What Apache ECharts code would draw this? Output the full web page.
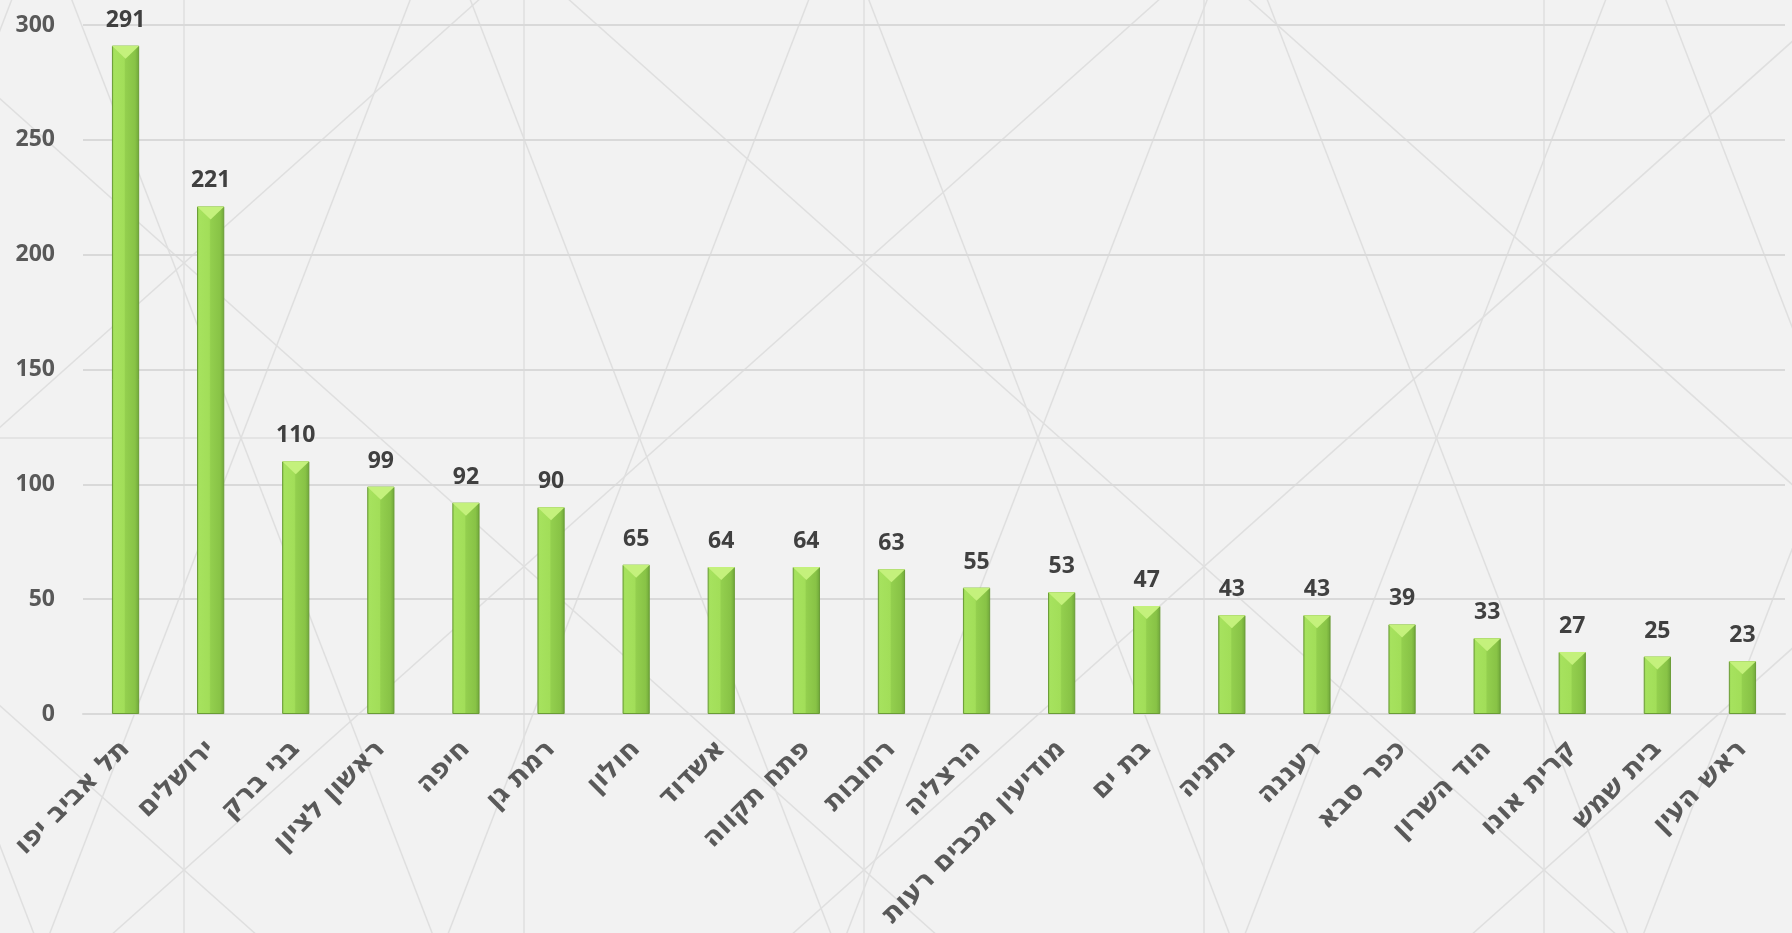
<!DOCTYPE html>
<html>
<head>
<meta charset="utf-8">
<script src="https://cdn.jsdelivr.net/npm/echarts@6/dist/echarts.min.js"></script>
<style>
  html, body { margin: 0; padding: 0; background: #f2f2f2; }
  #chart { width: 1792px; height: 933px; }
</style>
</head>
<body>
<div id="chart"></div>
<script>
// ערים ומספר המקרים
var cities = ['תל אביב יפו', 'ירושלים', 'בני ברק', 'ראשון לציון', 'חיפה', 'רמת גן', 'חולון', 'אשדוד',
  'פתח תקווה', 'רחובות', 'הרצליה', 'מודיעין מכבים רעות', 'בת ים', 'נתניה', 'רעננה', 'כפר סבא',
  'הוד השרון', 'קרית אונו', 'בית שמש', 'ראש העין'];
var counts = [291, 221, 110, 99, 92, 90, 65, 64, 64, 63, 55, 53, 47, 43, 43, 39, 33, 27, 25, 23];
var yTicks = [0, 50, 100, 150, 200, 250, 300];

var W = 1792, H = 933;

// decorative background lattice (theme texture)
function bgLines () {
  var els = [];
  var st = {stroke: '#dfdfdf', lineWidth: 1.5};
  function add (x1, y1, x2, y2) {
    els.push({type: 'line', silent: true, z: -10, shape: {x1: x1, y1: y1, x2: x2, y2: y2}, style: st});
  }
  var s = 303.5 / 340;
  for (var m = -5; m <= 5; m++) {
    add(-50, 263 + s * (-50 - 184) + 607 * m, W + 50, 263 + s * (W + 50 - 184) + 607 * m);
    add(-50, 263 - s * (-50 - 184) + 607 * m, W + 50, 263 - s * (W + 50 - 184) + 607 * m);
  }
  var t = 2.59;
  for (var k = -2; k <= 5; k++) {
    var xc = 241 + 398.5 * k;
    add(xc + (-20 - 438) / t, -20, xc + (H + 20 - 438) / t, H + 20);
    add(xc - (-20 - 438) / t, -20, xc - (H + 20 - 438) / t, H + 20);
  }
  for (var v = 0; v < 5; v++) {
    add(184 + 340 * v, 0, 184 + 340 * v, H);
  }
  add(0, 438, W, 438);
  return els;
}

var chart = echarts.init(document.getElementById('chart'));
chart.setOption({
  backgroundColor: '#f2f2f2',
  animation: false,
  graphic: bgLines(),
  grid: {left: 83, right: 7, top: 25, bottom: 219},
  xAxis: {
    type: 'category',
    data: cities,
    axisLine: {lineStyle: {color: '#d9d9d9', width: 2}},
    axisTick: {show: false},
    axisLabel: {
      interval: 0,
      rotate: 45,
      margin: 31,
      color: '#595959',
      fontSize: 27,
      fontWeight: 'bold',
      fontFamily: 'DejaVu Sans, sans-serif'
    }
  },
  yAxis: {
    type: 'value',
    min: yTicks[0],
    max: yTicks[yTicks.length - 1],
    interval: 50,
    axisLine: {show: false},
    axisTick: {show: false},
    splitLine: {lineStyle: {color: '#d9d9d9', width: 2}},
    axisLabel: {
      margin: 28,
      color: '#595959',
      fontSize: 23,
      fontWeight: 'bold',
      fontFamily: 'Open Sans, DejaVu Sans, sans-serif'
    }
  },
  series: [
    {
      type: 'bar',
      data: counts,
      barWidth: '32%',
      z: 2,
      itemStyle: {
        borderColor: '#6a9c36',
        borderWidth: 1,
        color: new echarts.graphic.LinearGradient(0, 0, 1, 0, [
          {offset: 0, color: '#8fcc4b'},
          {offset: 0.08, color: '#a6e25e'},
          {offset: 0.45, color: '#a2de59'},
          {offset: 0.5, color: '#93cf4e'},
          {offset: 0.85, color: '#88c346'},
          {offset: 1, color: '#6fa63a'}
        ])
      },
      label: {
        show: true,
        position: 'top',
        distance: 14,
        color: '#404040',
        fontSize: 23,
        fontWeight: 'bold',
        fontFamily: 'Open Sans, DejaVu Sans, sans-serif'
      }
    },
    {
      type: 'pictorialBar',
      data: counts,
      barWidth: '32%',
      z: 3,
      silent: true,
      symbol: 'triangle',
      symbolRotate: 180,
      symbolSize: ['100%', 13],
      symbolPosition: 'end',
      itemStyle: {color: '#c4f17c'}
    }
  ]
});
</script>
</body>
</html>
